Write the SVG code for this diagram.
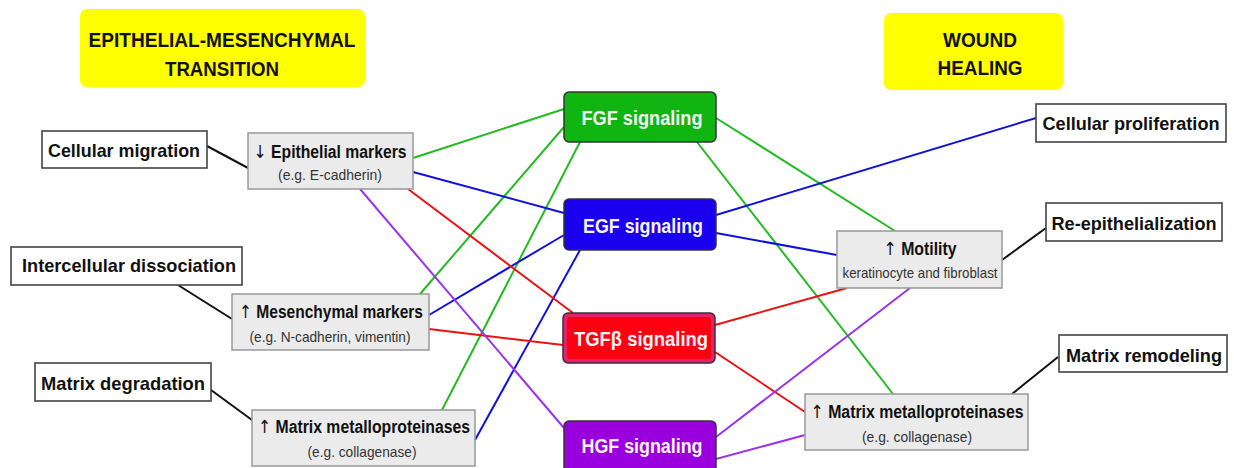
<svg xmlns="http://www.w3.org/2000/svg" width="1234" height="468" viewBox="0 0 1234 468">
<style>
text{font-family:"Liberation Sans","DejaVu Sans",Arial,sans-serif;fill:#111;text-anchor:middle}
.t{font-weight:bold;font-size:21px}
.b{font-weight:bold;font-size:18.5px}
.m{font-weight:bold;font-size:18px}
.s{font-size:15px;fill:#333}
.w{font-weight:bold;font-size:20px;fill:#f4f4f4}
.ar{font-family:"DejaVu Sans",sans-serif;font-weight:normal;fill:#111}
.y{fill:#ffff00;stroke:none}
.ob{fill:#fff;stroke:#444;stroke-width:1.6}
.gb{fill:#ebebeb;stroke:#999;stroke-width:1.5}
.sig{stroke:#333;stroke-width:1.5}
.k{stroke:#111;stroke-width:2;fill:none}
.g{stroke:#22bb22;stroke-width:2;fill:none}
.bl{stroke:#1111dd;stroke-width:2;fill:none}
.r{stroke:#ee1111;stroke-width:2;fill:none}
.p{stroke:#9933ee;stroke-width:2;fill:none}
</style>
<g id="connectors">
<line class="k" x1="207" y1="146" x2="248" y2="168"/>
<line class="k" x1="178" y1="285" x2="232" y2="319"/>
<line class="k" x1="211" y1="390" x2="252" y2="420"/>
<line class="k" x1="1046" y1="228" x2="1002" y2="260"/>
<line class="k" x1="1058" y1="357" x2="1012" y2="394"/>
<line class="g" x1="413" y1="158" x2="564" y2="109"/>
<line class="g" x1="564" y1="127" x2="420" y2="294"/>
<line class="g" x1="580" y1="142" x2="442" y2="410"/>
<line class="g" x1="697" y1="142" x2="893" y2="394"/>
<line class="g" x1="716" y1="118" x2="895" y2="231"/>
<line class="bl" x1="413" y1="172" x2="564" y2="213"/>
<line class="bl" x1="564" y1="235" x2="429" y2="315"/>
<line class="bl" x1="580" y1="250" x2="475" y2="440"/>
<line class="bl" x1="716" y1="215" x2="1036" y2="118"/>
<line class="bl" x1="716" y1="233" x2="837" y2="255"/>
<line class="r" x1="408" y1="189" x2="573" y2="313"/>
<line class="r" x1="429" y1="329" x2="563" y2="345"/>
<line class="r" x1="715" y1="325" x2="847" y2="288"/>
<line class="r" x1="715" y1="352" x2="805" y2="412"/>
<line class="p" x1="360" y1="189" x2="564" y2="428"/>
<line class="p" x1="716" y1="437" x2="910" y2="288"/>
<line class="p" x1="716" y1="459" x2="805" y2="435"/>
</g>
<g id="emt-title">
<rect class="y" x="80" y="9" width="285" height="78" rx="7"/>
<text class="t" x="222" y="47" textLength="267" lengthAdjust="spacingAndGlyphs">EPITHELIAL-MESENCHYMAL</text>
<text class="t" x="222" y="76" textLength="114" lengthAdjust="spacingAndGlyphs">TRANSITION</text>
</g>
<g id="wh-title">
<rect class="y" x="884" y="13" width="179" height="77" rx="7"/>
<text class="t" x="980" y="47" textLength="74" lengthAdjust="spacingAndGlyphs">WOUND</text>
<text class="t" x="980" y="75" textLength="85" lengthAdjust="spacingAndGlyphs">HEALING</text>
</g>
<g id="cellular-migration">
<rect class="ob" x="42" y="131" width="165" height="37"/>
<text class="b" x="124" y="157" textLength="152" lengthAdjust="spacingAndGlyphs">Cellular migration</text>
</g>
<g id="intercellular-dissociation">
<rect class="ob" x="11" y="247" width="231" height="38"/>
<text class="b" x="129" y="272" textLength="214" lengthAdjust="spacingAndGlyphs">Intercellular dissociation</text>
</g>
<g id="matrix-degradation">
<rect class="ob" x="35" y="363" width="176" height="38"/>
<text class="b" x="123" y="390" textLength="164" lengthAdjust="spacingAndGlyphs">Matrix degradation</text>
</g>
<g id="epithelial-markers">
<rect class="gb" x="248" y="133" width="165" height="56"/>
<text class="m" x="330" y="158" textLength="153" lengthAdjust="spacingAndGlyphs"><tspan class="ar">↓</tspan> Epithelial markers</text>
<text class="s" x="330" y="180" textLength="104" lengthAdjust="spacingAndGlyphs">(e.g. E-cadherin)</text>
</g>
<g id="mesenchymal-markers">
<rect class="gb" x="232" y="294" width="197" height="56"/>
<text class="m" x="331" y="318" textLength="184" lengthAdjust="spacingAndGlyphs"><tspan class="ar">↑</tspan> Mesenchymal markers</text>
<text class="s" x="330" y="342" textLength="161" lengthAdjust="spacingAndGlyphs">(e.g. N-cadherin, vimentin)</text>
</g>
<g id="mmp-left">
<rect class="gb" x="252" y="410" width="223" height="56"/>
<text class="m" x="364" y="433" textLength="212" lengthAdjust="spacingAndGlyphs"><tspan class="ar">↑</tspan> Matrix metalloproteinases</text>
<text class="s" x="362" y="457" textLength="109" lengthAdjust="spacingAndGlyphs">(e.g. collagenase)</text>
</g>
<g id="fgf">
<rect class="sig" x="564" y="92" width="152" height="50" rx="5" fill="#11b511"/>
<text class="w" x="642" y="125" textLength="121" lengthAdjust="spacingAndGlyphs">FGF signaling</text>
</g>
<g id="egf">
<rect class="sig" x="564" y="199" width="152" height="51" rx="5" fill="#1a00ee"/>
<text class="w" x="643" y="233" textLength="120" lengthAdjust="spacingAndGlyphs">EGF signaling</text>
</g>
<g id="tgfb">
<rect class="sig" x="563" y="313" width="152" height="50" rx="5" fill="#e8206a"/>
<rect x="567" y="317" width="144" height="42" rx="3" fill="#ff0010"/>
<text class="w" x="641" y="346" textLength="134" lengthAdjust="spacingAndGlyphs">TGFβ signaling</text>
</g>
<g id="hgf">
<rect class="sig" x="564" y="421" width="152" height="52" rx="5" fill="#9900dd"/>
<text class="w" x="642" y="453" textLength="121" lengthAdjust="spacingAndGlyphs">HGF signaling</text>
</g>
<g id="cellular-proliferation">
<rect class="ob" x="1036" y="104" width="190" height="38"/>
<text class="b" x="1131" y="130" textLength="177" lengthAdjust="spacingAndGlyphs">Cellular proliferation</text>
</g>
<g id="re-epithelialization">
<rect class="ob" x="1046" y="203" width="176" height="38"/>
<text class="b" x="1134" y="230" textLength="165" lengthAdjust="spacingAndGlyphs">Re-epithelialization</text>
</g>
<g id="matrix-remodeling">
<rect class="ob" x="1059" y="335" width="168" height="37"/>
<text class="b" x="1144" y="362" textLength="156" lengthAdjust="spacingAndGlyphs">Matrix remodeling</text>
</g>
<g id="motility">
<rect class="gb" x="837" y="231" width="165" height="57"/>
<text class="m" x="920" y="255" textLength="73" lengthAdjust="spacingAndGlyphs"><tspan class="ar">↑</tspan> Motility</text>
<text class="s" x="920" y="278" textLength="155" lengthAdjust="spacingAndGlyphs">keratinocyte and fibroblast</text>
</g>
<g id="mmp-right">
<rect class="gb" x="805" y="394" width="223" height="56"/>
<text class="m" x="917" y="418" textLength="213" lengthAdjust="spacingAndGlyphs"><tspan class="ar">↑</tspan> Matrix metalloproteinases</text>
<text class="s" x="917" y="442" textLength="110" lengthAdjust="spacingAndGlyphs">(e.g. collagenase)</text>
</g>
</svg>
